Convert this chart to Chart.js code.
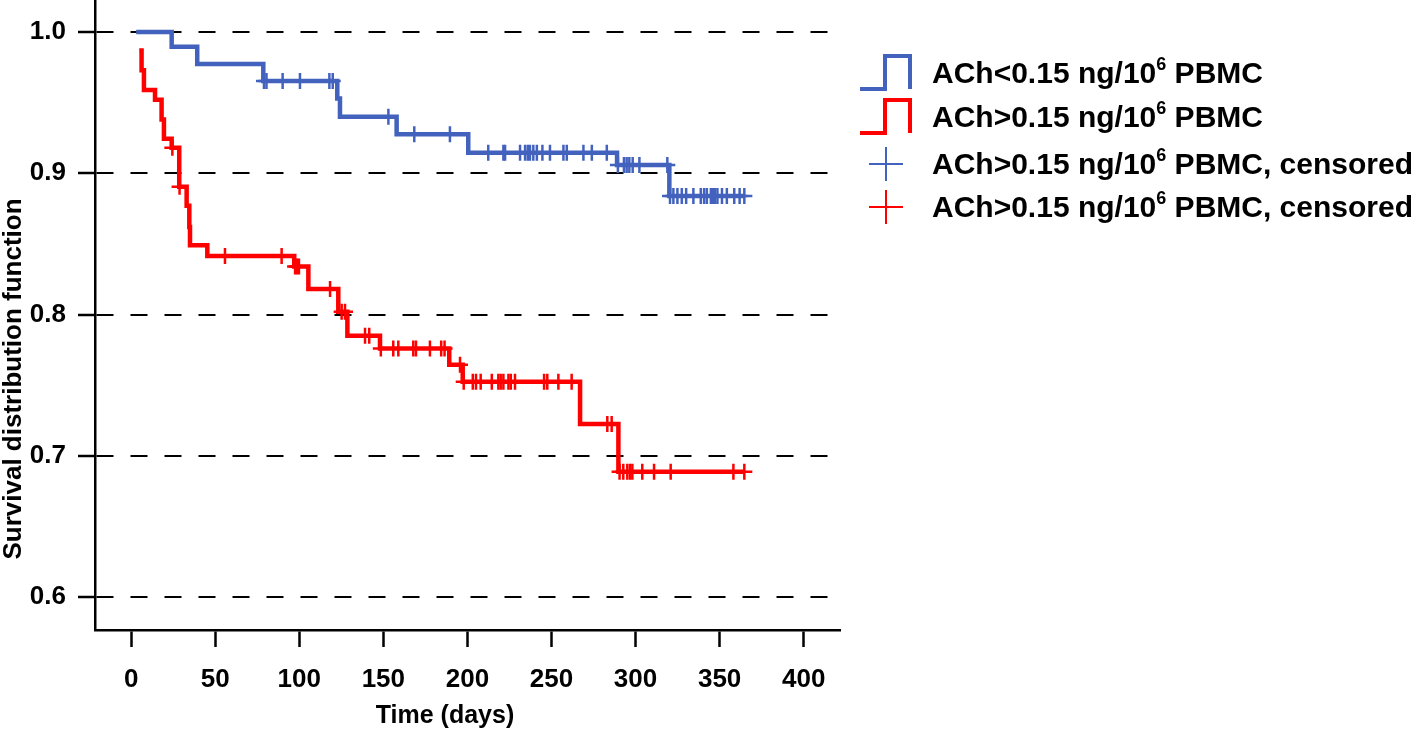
<!DOCTYPE html>
<html>
<head>
<meta charset="utf-8">
<script src="https://cdn.jsdelivr.net/npm/chart.js@4.4.0/dist/chart.umd.min.js"></script>
<style>
  body { margin: 0; background: #fff; }
  #wrap { position: relative; width: 1418px; height: 731px; overflow: hidden; }
  #survChart { position: absolute; left: 0; top: 0; }
  .row { position: absolute; left: 858px; height: 44px; white-space: nowrap;
         font: bold 30px "Liberation Sans", Arial, sans-serif; color: #000; }
  .row svg { position: absolute; left: 0; top: 0; }
  .row span { position: absolute; left: 74px; top: 0; line-height: 44px; }
  .row sup { font-size: 0.6em; vertical-align: 0.7em; line-height: 0; }
</style>
</head>
<body>
<div id="wrap">
  <canvas id="survChart" width="1418" height="731"></canvas>

  <div class="row" style="top:51px">
    <svg width="60" height="44"><polyline points="2,38 27,38 27,5 52,5 52,38" fill="none" stroke="#4262BE" stroke-width="4"/></svg>
    <span>ACh&lt;0.15 ng/10<sup>6</sup> PBMC</span>
  </div>
  <div class="row" style="top:95px">
    <svg width="60" height="44"><polyline points="2,38 27,38 27,5 52,5 52,38" fill="none" stroke="#FF0000" stroke-width="4"/></svg>
    <span>ACh&gt;0.15 ng/10<sup>6</sup> PBMC</span>
  </div>
  <div class="row" style="top:142px">
    <svg width="60" height="44"><path d="M11,22 H45 M28,5 V39" stroke="#4262BE" stroke-width="2"/></svg>
    <span>ACh&gt;0.15 ng/10<sup>6</sup> PBMC, censored</span>
  </div>
  <div class="row" style="top:185px">
    <svg width="60" height="44"><path d="M11,22 H45 M28,5 V39" stroke="#FF0000" stroke-width="2"/></svg>
    <span>ACh&gt;0.15 ng/10<sup>6</sup> PBMC, censored</span>
  </div>
</div>

<script>
// axis ticks
const xTicks = [0, 50, 100, 150, 200, 250, 300, 350, 400];
const yTicks = [0.6, 0.7, 0.8, 0.9, 1.0];

// ACh < 0.15 group (blue) - step points: time, survival after the drop
const lowTime = [3, 24.1, 39.3, 78.6, 122.6, 124.2, 157.9, 200.5, 289, 320.1, 365];
const lowSurv = [1.0, 0.9896, 0.9773, 0.9653, 0.953, 0.940, 0.9276, 0.9146, 0.9058, 0.8839, 0.8839];
const lowCensored = [79, 80.5, 90.1, 100.4, 117.9, 119.9, 153, 168.4, 189.6,
  212.4, 221.4, 222.4, 231.3, 234.3, 235.9, 237.2, 239.2, 241.3, 244.6, 249.1, 257.1, 259.1, 269, 274, 282.9,
  289.5, 293.1, 294.7, 296.3, 298.3, 302.3, 318.9,
  320.5, 322.5, 324.9, 327.5, 330.1, 334.4, 338.8, 340.8, 342.4, 344.8, 346, 347.2, 348.7, 351.4, 354.3, 358.7, 361.9, 364.7];

// ACh > 0.15 group (red)
const highTime = [4.8, 6.2, 7.6, 14.2, 18.1, 19.5, 24.1, 28.6, 33, 34.6, 35, 45.3, 97, 105.4, 123.2, 128.6, 148, 189.2, 197.2, 267, 289.8, 365];
const highSurv = [0.987, 0.973, 0.959, 0.952, 0.938, 0.9245, 0.918, 0.8905, 0.877, 0.862, 0.849, 0.8414, 0.834, 0.818, 0.802, 0.785, 0.776, 0.7645, 0.7524, 0.7225, 0.6887, 0.6887];
const highCensored = [24.5, 28.8, 55.8, 89.5, 97.5, 98.6, 99.8, 118.3, 125.2, 127.2, 139.1, 141.6,
  148.5, 155.9, 158.9, 167.8, 169.4, 177.7, 184.4, 186.4, 195.6,
  197.8, 203.2, 205.1, 207.9, 214.5, 218.4, 219.8, 221.4, 224.4, 225.8, 228.3, 245.6, 247.5, 254.1, 262,
  283.2, 285.8, 290.5, 292.7, 295.1, 296.7, 298.1, 304, 311, 320.9, 358.2, 364.7];

const BLUE = '#4262BE';
const RED = '#FF0000';

// survival level of a curve at time t (for placing censor marks)
function survAt(times, surv, t) {
  let s = surv[0];
  for (let i = 0; i < times.length; i++) {
    if (times[i] <= t) s = surv[i];
  }
  return s;
}

const toPoints = (xs, ys) => xs.map((x, i) => ({ x: x, y: ys[i] }));
const censorPoints = (cs, times, surv) => cs.map(t => ({ x: t, y: survAt(times, surv, t) }));

// axis titles drawn at their own spots
const axisTitles = {
  id: 'axisTitles',
  afterDraw(chart) {
    const c = chart.ctx;
    c.save();
    c.fillStyle = '#000';
    c.textAlign = 'center';
    c.textBaseline = 'middle';
    c.font = 'bold 25px "Liberation Sans", Arial, sans-serif';
    c.fillText('Time (days)', 445, 716);
    c.translate(14, 379);
    c.rotate(-Math.PI / 2);
    c.font = 'bold 26px "Liberation Sans", Arial, sans-serif';
    c.fillText('Survival distribution function', 0, 0);
    c.restore();
  }
};

const tickFont = { family: '"Liberation Sans", Arial, sans-serif', size: 26, weight: 'bold' };

new Chart(document.getElementById('survChart'), {
  type: 'line',
  data: {
    datasets: [
      {
        label: 'ACh<0.15',
        data: toPoints(lowTime, lowSurv),
        borderColor: BLUE, borderWidth: 4.5, stepped: true, pointRadius: 0, fill: false
      },
      {
        label: 'ACh>0.15',
        data: toPoints(highTime, highSurv),
        borderColor: RED, borderWidth: 4.5, stepped: true, pointRadius: 0, fill: false
      },
      {
        label: 'ACh<0.15 censored',
        data: censorPoints(lowCensored, lowTime, lowSurv),
        showLine: false, pointStyle: 'cross', pointRadius: 8,
        pointBorderWidth: 2.5, pointBorderColor: BLUE, borderColor: BLUE
      },
      {
        label: 'ACh>0.15 censored',
        data: censorPoints(highCensored, highTime, highSurv),
        showLine: false, pointStyle: 'cross', pointRadius: 8,
        pointBorderWidth: 2.5, pointBorderColor: RED, borderColor: RED
      }
    ]
  },
  options: {
    responsive: false,
    animation: false,
    devicePixelRatio: 1,
    layout: { autoPadding: false, padding: { left: 0, right: 578, top: 0, bottom: 0 } },
    plugins: { legend: { display: false }, tooltip: { enabled: false } },
    scales: {
      x: {
        type: 'linear',
        min: -21.5,
        max: 421.6,
        afterBuildTicks: s => { s.ticks = xTicks.map(v => ({ value: v })); },
        afterFit: s => { s.height = 101; s.paddingLeft = 0; s.paddingRight = 0; },
        grid: { drawOnChartArea: false, drawTicks: true, tickLength: 17, tickColor: '#000', tickWidth: 2.5 },
        border: { color: '#000', width: 2.5 },
        ticks: { color: '#000', font: tickFont, padding: 17, maxRotation: 0 }
      },
      y: {
        type: 'linear',
        min: 0.5766,
        max: 1.0227,
        afterBuildTicks: s => { s.ticks = yTicks.map(v => ({ value: v })); },
        afterFit: s => { s.width = 95; s.paddingTop = 0; s.paddingBottom = 0; },
        grid: { color: '#000', lineWidth: 2, drawTicks: true, tickLength: 17, tickColor: '#000', tickWidth: 2.5 },
        border: { color: '#000', width: 2.5, dash: [17, 17] },
        ticks: { color: '#000', font: tickFont, padding: 12, callback: v => v.toFixed(1) }
      }
    }
  },
  plugins: [axisTitles]
});
</script>
</body>
</html>
